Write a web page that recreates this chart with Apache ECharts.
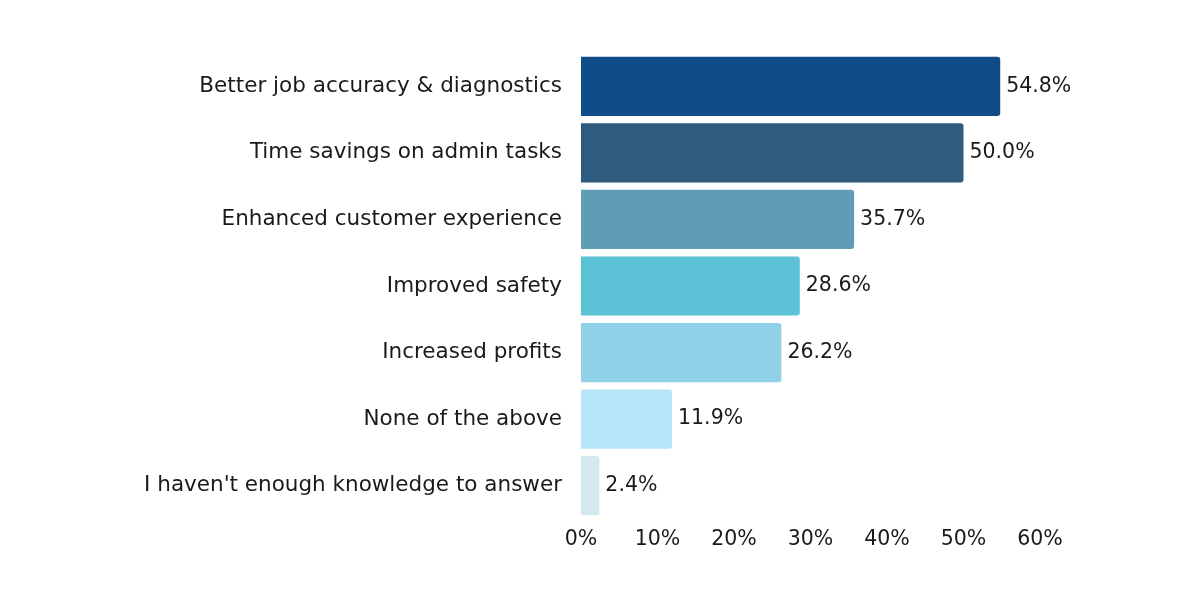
<!DOCTYPE html>
<html>
<head>
<meta charset="utf-8">
<script src="https://cdn.jsdelivr.net/npm/echarts@6/dist/echarts.min.js"></script>
<style>html,body{margin:0;padding:0;background:#fff;}#c{width:1200px;height:600px;}</style>
</head>
<body>
<div id="c"></div>
<script>
const categories = ["Better job accuracy & diagnostics","Time savings on admin tasks","Enhanced customer experience","Improved safety","Increased profits","None of the above","I haven't enough knowledge to answer"];
const values = [54.8, 50.0, 35.7, 28.6, 26.2, 11.9, 2.4];
const colors = ["#0F4C88","#2E5B7E","#5E9DB5","#5CC2D6","#90D1E8","#B5E5F6","#D5E8F0"];
const xTicks = [0,10,20,30,40,50,60];

const chart = echarts.init(document.getElementById('c'));
const font = "'DejaVu Sans', sans-serif";
const fs = 21.5;
chart.setOption({
  animation: false,
  grid: {left: 581, right: 160, top: 53, bottom: 81},
  xAxis: {
    type: 'value', min: xTicks[0], max: xTicks[xTicks.length-1], interval: 10,
    axisLine: {show: false}, axisTick: {show: false}, splitLine: {show: false},
    axisLabel: {formatter: v => v + '%', fontFamily: font, fontSize: 20.5, color: '#1a1a1a', margin: 10}
  },
  yAxis: {
    type: 'category', data: categories, inverse: true,
    axisLine: {show: false}, axisTick: {show: false},
    axisLabel: {fontFamily: font, fontSize: fs, color: '#1a1a1a', margin: 19}
  },
  series: [{
    type: 'bar',
    data: values.map((v, i) => ({value: v, itemStyle: {color: colors[i]}})),
    barCategoryGap: '11%',
    itemStyle: {borderRadius: [0, 3, 3, 0]},
    label: {show: true, position: 'right', distance: 6, formatter: p => p.value.toFixed(1) + '%', fontFamily: font, fontSize: 20.5, color: '#1a1a1a'}
  }]
});
</script>
</body>
</html>
